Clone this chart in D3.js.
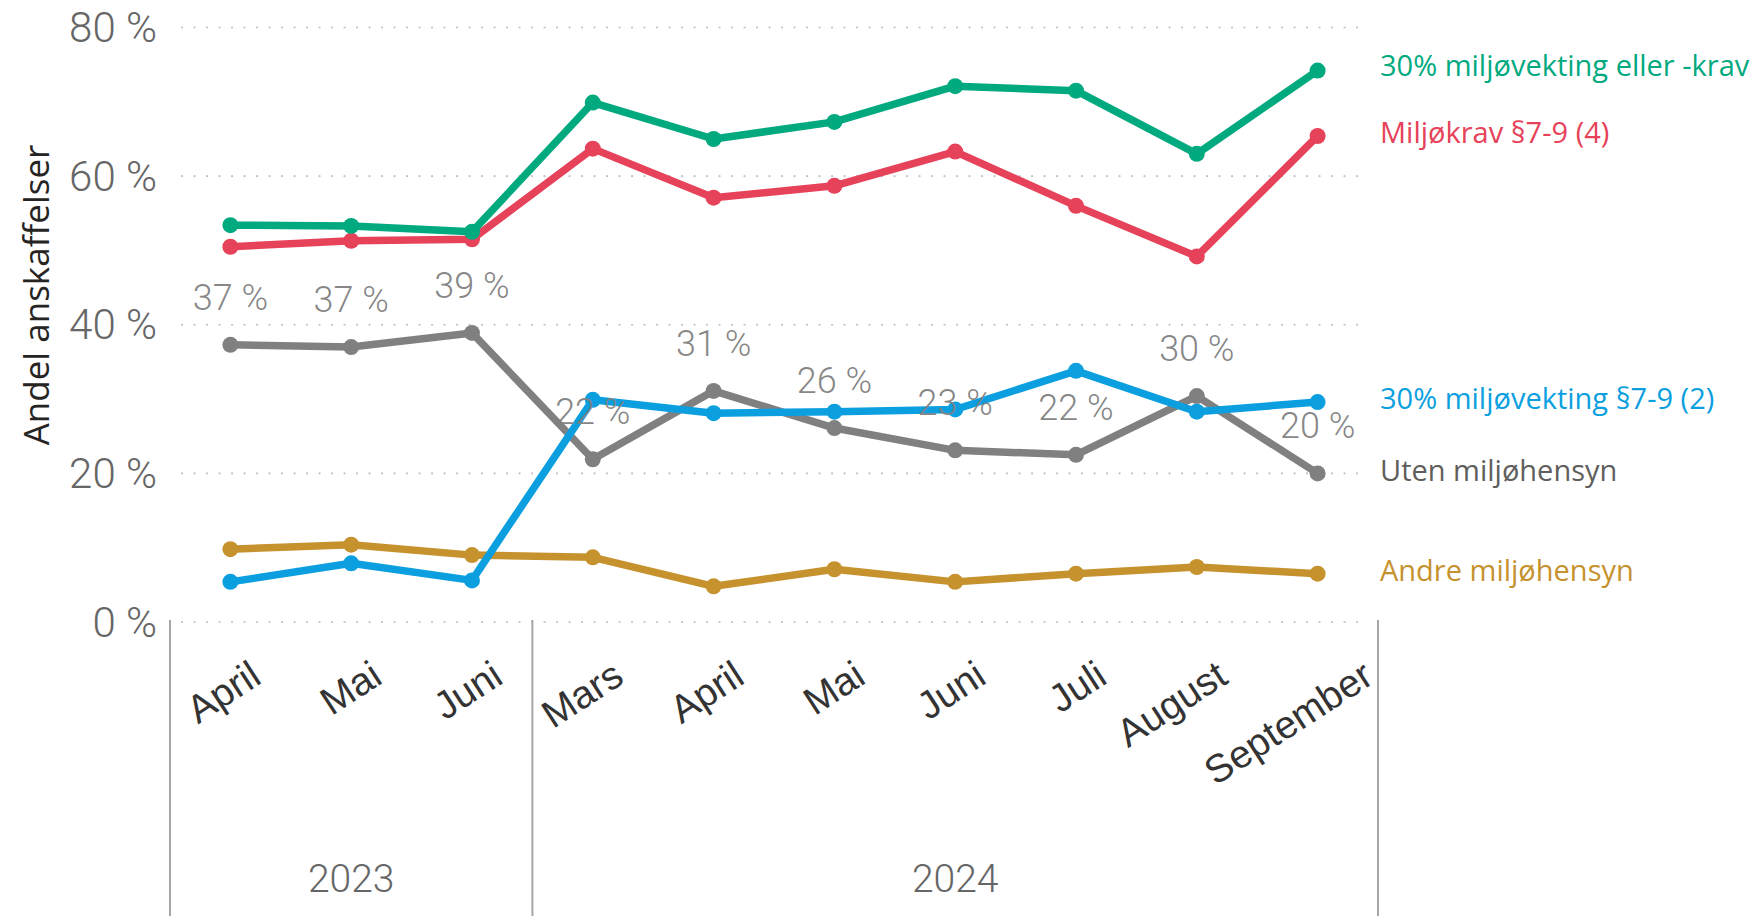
<!DOCTYPE html>
<html lang="no">
<head>
    <meta charset="utf-8">
    <title>Andel anskaffelser</title>
    <script src="https://d3js.org/d3.v7.min.js"></script>
    <style>
        body { margin: 0; background: #fff; }
        svg { display: block; }
    </style>
</head>
<body>
<script>
    // Data
    const months = ["April", "Mai", "Juni", "Mars", "April", "Mai", "Juni", "Juli", "August", "September"];
    const years  = ["2023", "2023", "2023", "2024", "2024", "2024", "2024", "2024", "2024", "2024"];
    const yearGroups = ["2023", "2024"];
    const yTicks = [0, 20, 40, 60, 80];

    const seriesNames = [
        "30% miljøvekting eller -krav",
        "Miljøkrav §7-9 (4)",
        "30% miljøvekting §7-9 (2)",
        "Uten miljøhensyn",
        "Andre miljøhensyn"
    ];
    const greenVals = [53.4, 53.3, 52.5, 69.9, 65.0, 67.3, 72.1, 71.5, 63.0, 74.2];
    const redVals   = [50.5, 51.3, 51.5, 63.7, 57.1, 58.7, 63.3, 56.0, 49.2, 65.4];
    const blueVals  = [5.4, 7.9, 5.6, 29.9, 28.1, 28.3, 28.6, 33.8, 28.3, 29.6];
    const greyVals  = [37.3, 37.0, 38.9, 21.9, 31.1, 26.1, 23.1, 22.5, 30.4, 20.0];
    const goldVals  = [9.8, 10.4, 9.0, 8.7, 4.8, 7.1, 5.4, 6.5, 7.4, 6.5];
    const greyLabels = ["37 %", "37 %", "39 %", "22 %", "31 %", "26 %", "23 %", "22 %", "30 %", "20 %"];

    const seriesVals   = [greenVals, redVals, blueVals, greyVals, goldVals];
    const seriesColors = ["#01A97F", "#E64259", "#0B9FE0", "#808080", "#C6922E"];
    const legendColors = ["#01A97F", "#E64259", "#0B9FE0", "#605E5C", "#C6922E"];
    const drawOrder    = [4, 3, 2, 1, 0]; // gold at the bottom, green on top

    // Dimensions
    const width  = 1754;
    const height = 916;
    const xLeft  = 170;
    const xRight = 1378;
    const yTop   = 27.5;
    const yBase  = 622;

    const svg = d3.select("body")
        .append("svg")
        .attr("width", width)
        .attr("height", height);

    const idx = d3.range(months.length);

    // Scales
    const x = d3.scaleBand()
        .domain(idx)
        .range([xLeft, xRight]);
    const cx = i => x(i) + x.bandwidth() / 2;

    const y = d3.scaleLinear()
        .domain([0, 80])
        .range([yBase, yTop]);

    // Dotted gridlines
    svg.append("g")
        .selectAll("line")
        .data(yTicks)
        .enter()
        .append("line")
        .attr("x1", 182)
        .attr("x2", 1360)
        .attr("y1", d => y(d))
        .attr("y2", d => y(d))
        .attr("stroke", "#c4c4c4")
        .attr("stroke-width", 2.2)
        .attr("stroke-linecap", "round")
        .attr("stroke-dasharray", "0.1,12.4");

    // Y tick labels
    svg.append("g")
        .selectAll("text")
        .data(yTicks)
        .enter()
        .append("text")
        .attr("x", 157)
        .attr("y", d => y(d) + 14.5)
        .attr("text-anchor", "end")
        .attr("font-family", "Roboto, 'Liberation Sans', sans-serif")
        .attr("font-weight", 300)
        .attr("font-size", 42)
        .attr("fill", "#666666")
        .text(d => d + " %");

    // Y axis title
    svg.append("text")
        .attr("transform", "translate(49,295) rotate(-90)")
        .attr("text-anchor", "middle")
        .attr("font-family", "'Open Sans', 'Noto Sans', sans-serif")
        .attr("font-size", 35)
        .attr("fill", "#252423")
        .text("Andel anskaffelser");

    // Category separators
    const yearStarts = yearGroups.map(g => years.indexOf(g));
    const sepX = yearStarts.map(i => x(i)).concat([xRight]);
    svg.append("g")
        .selectAll("line")
        .data(sepX)
        .enter()
        .append("line")
        .attr("x1", d => d)
        .attr("x2", d => d)
        .attr("y1", yBase - 2)
        .attr("y2", height)
        .attr("stroke", "#a6a6a6")
        .attr("stroke-width", 2);

    // Month labels (the last one is pushed right, as in the original)
    const last = months.length - 1;
    svg.append("g")
        .selectAll("text")
        .data(idx)
        .enter()
        .append("text")
        .attr("transform", i => `translate(${cx(i) + (i === last ? 58 : 33)},682) rotate(-33)`)
        .attr("text-anchor", "end")
        .attr("font-family", "'Liberation Sans', Arial, sans-serif")
        .attr("font-size", 39)
        .attr("fill", "#333333")
        .text(i => months[i]);

    // Year labels
    svg.append("g")
        .selectAll("text")
        .data(yearGroups)
        .enter()
        .append("text")
        .attr("x", g => {
            const first = years.indexOf(g);
            const end   = years.lastIndexOf(g);
            return (x(first) + x(end) + x.bandwidth()) / 2;
        })
        .attr("y", 892)
        .attr("text-anchor", "middle")
        .attr("font-family", "Roboto, 'Liberation Sans', sans-serif")
        .attr("font-weight", 300)
        .attr("font-size", 39)
        .attr("fill", "#666666")
        .text(g => g);

    // Lines and dots
    const line = d3.line()
        .x((d, i) => cx(i))
        .y(d => y(d));

    drawOrder.forEach(s => {
        const g = svg.append("g");
        g.append("path")
            .datum(seriesVals[s])
            .attr("fill", "none")
            .attr("stroke", seriesColors[s])
            .attr("stroke-width", 7.5)
            .attr("stroke-linejoin", "round")
            .attr("d", line);
        g.selectAll("circle")
            .data(seriesVals[s])
            .enter()
            .append("circle")
            .attr("cx", (d, i) => cx(i))
            .attr("cy", d => y(d))
            .attr("r", 8)
            .attr("fill", seriesColors[s]);
    });

    // Data labels for "Uten miljøhensyn"
    svg.append("g")
        .selectAll("text")
        .data(greyVals)
        .enter()
        .append("text")
        .attr("x", (d, i) => cx(i))
        .attr("y", d => y(d) - 35)
        .attr("text-anchor", "middle")
        .attr("font-family", "Roboto, 'Liberation Sans', sans-serif")
        .attr("font-weight", 300)
        .attr("font-size", 36)
        .attr("fill", "#808080")
        .attr("fill-opacity", 0.95)
        .text((d, i) => greyLabels[i]);

    // Series labels at line ends
    const labelY = [66, 133, 399, 471, 571];
    svg.append("g")
        .selectAll("text")
        .data(seriesNames)
        .enter()
        .append("text")
        .attr("x", 1380)
        .attr("y", (d, i) => labelY[i])
        .attr("dy", "0.35em")
        .attr("font-family", "'Open Sans', 'Noto Sans', sans-serif")
        .attr("font-size", 29)
        .attr("fill", (d, i) => legendColors[i])
        .text(d => d);
</script>
</body>
</html>
